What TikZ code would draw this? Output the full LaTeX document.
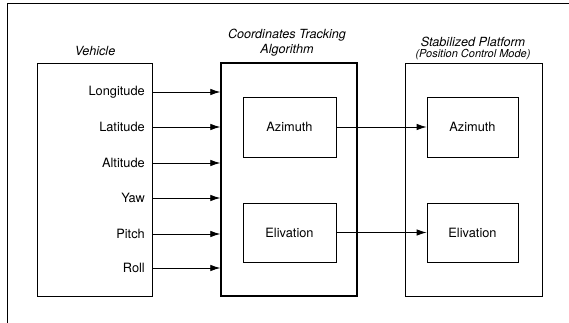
\documentclass[tikz,border=0pt]{standalone}
\usepackage{fontspec}
\setmainfont{TeX Gyre Heros}
\usetikzlibrary{arrows.meta,calc}
\tikzset{
  box/.style={draw, line width=0.8pt, inner sep=0pt},
  thickbox/.style={draw, line width=1.4pt, inner sep=0pt},
  lbl/.style={font=\fontsize{12.8pt}{14pt}\selectfont, inner sep=0pt, anchor=east},
  inlbl/.style={font=\fontsize{12.8pt}{14pt}\selectfont, inner sep=0pt},
  ttl/.style={font=\fontsize{12.6pt}{14pt}\selectfont\itshape, inner sep=0pt},
  subttl/.style={font=\fontsize{11pt}{12pt}\selectfont\itshape, inner sep=0pt},
  arr/.style={line width=0.8pt, -{Latex[length=10pt,width=6.5pt]}},
}
\begin{document}
\begin{tikzpicture}[x=1pt,y=-1pt]
\useasboundingbox (0,0) rectangle (569,323);
% outer frame (top and left edges)
\draw[line width=0.8pt] (569,3) -- (7,3) -- (7,323);

% main blocks
\node[box, minimum width=115pt, minimum height=233pt] (veh) at (94.5,179.5) {};
\node[thickbox, minimum width=136pt, minimum height=233pt] (alg) at (289,179.5) {};
\node[box, minimum width=137pt, minimum height=233pt] (plat) at (473.5,179.5) {};

% titles
\node[ttl] (tveh) at (95,51) {Vehicle};
\node[ttl] (talg1) at (287,35) {Coordinates Tracking};
\node[ttl] (talg2) at (287,50) {Algorithm};
\node[ttl] (tplat) at (473,42) {Stabilized Platform};
\node[subttl] (tplat2) at (473,55) {(Position Control Mode)};

% inner blocks
\node[box, minimum width=93pt, minimum height=60pt] (az1) at (289.5,127) {};
\node[box, minimum width=93pt, minimum height=59pt] (el1) at (289.5,232.5) {};
\node[box, minimum width=91pt, minimum height=60pt] (az2) at (472.5,127) {};
\node[box, minimum width=91pt, minimum height=59pt] (el2) at (472.5,232.5) {};
\node[inlbl] at (az1) {Azimuth};
\node[inlbl] at (el1) {Elivation};
\node[inlbl] at (az2) {Azimuth};
\node[inlbl] at (el2) {Elivation};

% vehicle outputs
\node[lbl] (lon) at (145,92) {Longitude};
\node[lbl] (lat) at (145,127) {Latitude};
\node[lbl] (alt) at (145,163) {Altitude};
\node[lbl] (yaw) at (145,198) {Yaw};
\node[lbl] (pit) at (145,234) {Pitch};
\node[lbl] (rol) at (145,268) {Roll};

\foreach \s in {lon,lat,alt,yaw,pit,rol}
  \draw[arr] (veh.east |- \s) -- (alg.west |- \s);

% algorithm to platform
\draw[arr] (az1.east) -- (az2.west);
\draw[arr] (el1.east) -- (el2.west);
\end{tikzpicture}
\end{document}
